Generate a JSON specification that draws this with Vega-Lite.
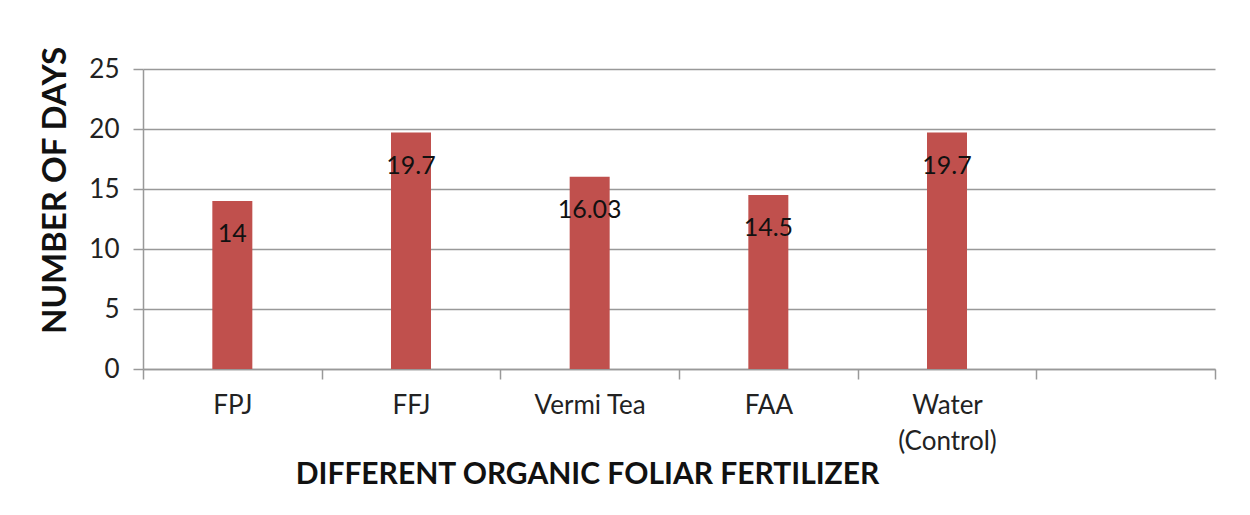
{
  "$schema": "https://vega.github.io/schema/vega-lite/v6.json",
  "autosize": {"type": "none"},
  "width": 1072,
  "height": 300,
  "padding": {"left": 143, "top": 69, "right": 35, "bottom": 146},
  "background": "white",
  "config": {"view": {"stroke": null}, "font": "Lato"},
  "data": {"values": [
    {"fertilizer": "FPJ", "days": 14},
    {"fertilizer": "FFJ", "days": 19.7},
    {"fertilizer": "Vermi Tea", "days": 16.03},
    {"fertilizer": "FAA", "days": 14.5},
    {"fertilizer": "Water (Control)", "days": 19.7}
  ]},
  "encoding": {
    "x": {
      "field": "fertilizer",
      "type": "nominal",
      "sort": null,
      "scale": {"domain": ["FPJ", "FFJ", "Vermi Tea", "FAA", "Water (Control)", " "], "paddingInner": 0, "paddingOuter": 0},
      "axis": {
        "title": "DIFFERENT ORGANIC FOLIAR FERTILIZER",
        "titleFont": "Lato",
        "titleFontWeight": "bold",
        "titleFontSize": 30,
        "titleColor": "#111",
        "titleX": 444,
        "titleY": 114,
        "titleBaseline": "alphabetic",
        "titleAnchor": "middle",
        "labelAngle": 0,
        "labelFontSize": 26,
        "labelColor": "#222",
        "labelPadding": 13,
        "labelLineHeight": 36,
        "labelExpr": "datum.value == 'Water (Control)' ? ['Water', '(Control)'] : datum.label",
        "tickBand": "extent",
        "tickSize": 10,
        "tickColor": "#999",
        "tickWidth": 1.5,
        "domainColor": "#999",
        "domainWidth": 1.5,
        "grid": false
      }
    },
    "y": {
      "field": "days",
      "type": "quantitative",
      "scale": {"domain": [0, 25]},
      "axis": {
        "title": "NUMBER OF DAYS",
        "titleFont": "Lato",
        "titleFontWeight": "bold",
        "titleFontSize": 33,
        "titleColor": "#111",
        "titleX": -78,
        "titleY": 121,
        "titleBaseline": "alphabetic",
        "titleAnchor": "middle",
        "values": [0, 5, 10, 15, 20, 25],
        "labelFontSize": 26,
        "labelColor": "#222",
        "labelPadding": 14,
        "tickSize": 10,
        "tickColor": "#999",
        "tickWidth": 1.5,
        "domainColor": "#999",
        "domainWidth": 1.5,
        "grid": true,
        "gridColor": "#999",
        "gridWidth": 1.5
      }
    }
  },
  "layer": [
    {"mark": {"type": "bar", "size": 40, "color": "#c0504d"}},
    {
      "mark": {"type": "text", "baseline": "middle", "align": "center", "dy": 33, "fontSize": 25, "color": "#111", "font": "Lato"},
      "encoding": {"text": {"field": "days", "type": "quantitative"}}
    }
  ]
}
